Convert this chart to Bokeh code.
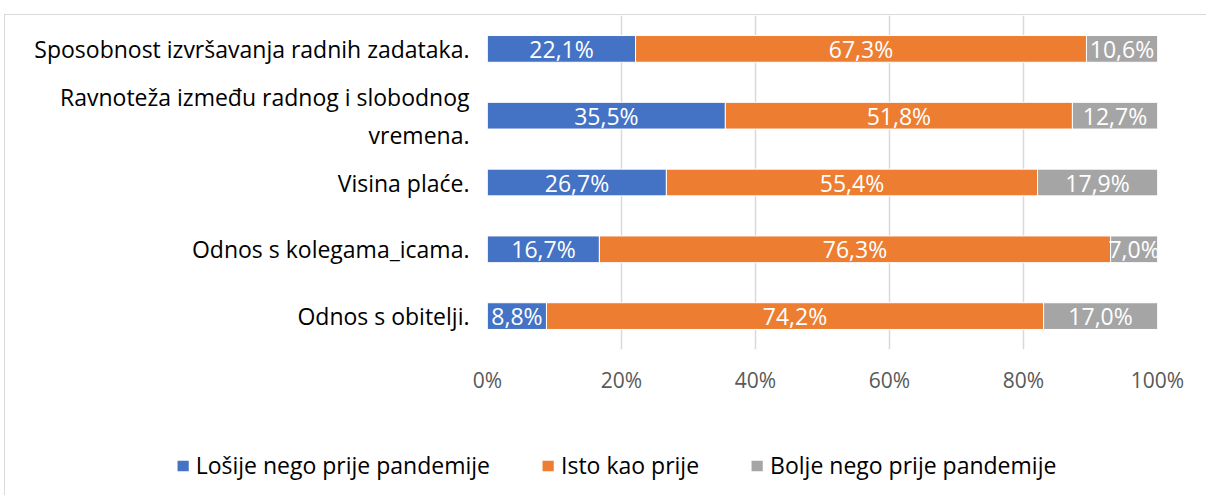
from bokeh.plotting import figure
from bokeh.models import (ColumnDataSource, FactorRange, Range1d, FixedTicker,
                          Legend, LegendItem)
from bokeh.core.properties import value
from bokeh.embed import file_html
from bokeh.resources import INLINE

categories = [
    "Sposobnost izvršavanja radnih zadataka.",
    "Ravnoteža između radnog i slobodnog\nvremena.",
    "Visina plaće.",
    "Odnos s kolegama_icama.",
    "Odnos s obitelji.",
]
series_names = ["Lošije nego prije pandemije", "Isto kao prije", "Bolje nego prije pandemije"]
losije = [22.1, 35.5, 26.7, 16.7, 8.8]
isto = [67.3, 51.8, 55.4, 76.3, 74.2]
bolje = [10.6, 12.7, 17.9, 7.0, 17.0]
colors = ["#4472C4", "#ED7D31", "#A5A5A5"]
x_ticks = [0, 20, 40, 60, 80, 100]
x_tick_labels = ["0%", "20%", "40%", "60%", "80%", "100%"]

FONT = "Open Sans"
BORDER = "1px solid #D9D9D9"

p = figure(width=1202, height=421, output_backend="svg", toolbar_location=None,
           y_range=FactorRange(factors=list(reversed(categories)), range_padding=0),
           x_range=Range1d(0, 100),
           min_border_left=482, min_border_right=50, min_border_top=0,
           min_border_bottom=87)
p.margin = (14, 0, 0, 4)
p.styles = {"border-top": BORDER, "border-left": BORDER}
p.outline_line_color = None
p.background_fill_color = "white"
p.border_fill_color = "white"

series = [losije, isto, bolje]
keys = ["s0", "s1", "s2"]
data = {"cat": categories}
for k, s in zip(keys, series):
    data[k] = s
src = ColumnDataSource(data)

renderers = p.hbar_stack(keys, y="cat", height=0.4, color=colors, source=src,
                         line_color="white", line_width=1)

# data labels
for i, s in enumerate(series):
    lefts = [sum(series[j][c] for j in range(i)) for c in range(len(categories))]
    centers = [l + v / 2 for l, v in zip(lefts, s)]
    texts = [f"{v:.1f}%".replace(".", ",") for v in s]
    lsrc = ColumnDataSource(dict(x=centers, y=categories, t=texts))
    p.text(x="x", y="y", text="t", source=lsrc, text_color="white",
           text_align="center", text_baseline="middle", text_font=value(FONT),
           text_font_size="23px")

# x axis
p.xaxis.ticker = FixedTicker(ticks=x_ticks)
p.xaxis.major_label_overrides = {t: l for t, l in zip(x_ticks, x_tick_labels)}
p.xaxis.axis_line_color = None
p.xaxis.major_tick_line_color = None
p.xaxis.minor_tick_line_color = None
p.xaxis.major_label_text_font = FONT
p.xaxis.major_label_text_font_size = "21px"
p.xaxis.major_label_text_color = "#595959"
p.xaxis.major_label_standoff = 10

# y axis
p.yaxis.axis_line_color = None
p.yaxis.major_tick_line_color = None
p.yaxis.minor_tick_line_color = None
p.yaxis.major_label_text_font = FONT
p.yaxis.major_label_text_font_size = "23px"
p.yaxis.major_label_text_color = "#000000"
p.yaxis.major_label_standoff = 12

p.xgrid.grid_line_color = "#D9D9D9"
p.xgrid.grid_line_width = 1.5
p.ygrid.grid_line_color = None

# legend figure (zero-height proxy bars, only their legend glyphs show)
p2 = figure(width=1202, height=60, output_backend="svg", toolbar_location=None,
            y_range=FactorRange(factors=list(reversed(categories))),
            x_range=Range1d(200, 300),
            min_border_left=35, min_border_right=15, min_border_top=0,
            min_border_bottom=0, x_axis_type=None, y_axis_type=None)
p2.margin = (0, 0, 0, 4)
p2.styles = {"border-left": BORDER}
p2.outline_line_color = None
p2.xgrid.grid_line_color = None
p2.ygrid.grid_line_color = None
leg_renderers = []
for k, c in zip(keys, colors):
    leg_renderers.append(p2.hbar(y="cat", right=k, height=0, fill_color=c,
                                 line_color=None, source=src))
items = [LegendItem(label=n, renderers=[r]) for n, r in zip(series_names, leg_renderers)]
legend = Legend(items=items, orientation="horizontal", location="center",
                border_line_color=None, background_fill_alpha=0,
                label_text_font=FONT, label_text_font_size="23px",
                label_text_color="#000000", glyph_width=14, glyph_height=13,
                label_standoff=6, spacing=51, margin=0, padding=0)
p2.add_layout(legend, "center")

open("out.html", "w").write(file_html([p, p2], INLINE))
